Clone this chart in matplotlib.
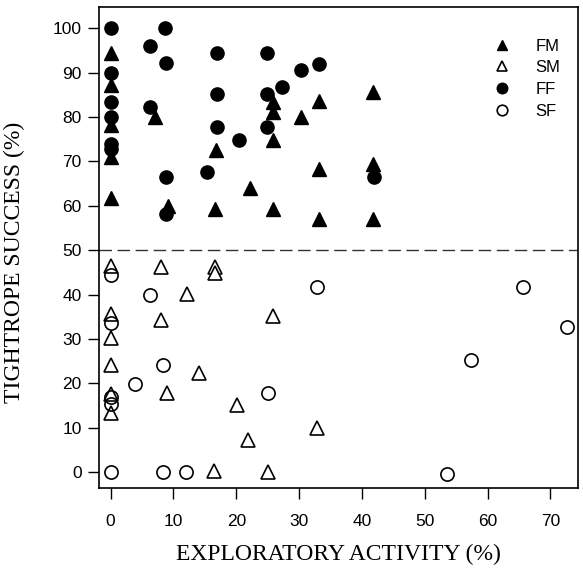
import matplotlib
matplotlib.use("Agg")
import matplotlib.pyplot as plt

# ---- data ----
fm_x = [0, 0, 0, 0, 0, 7.1, 9.2, 16.8, 16.6, 22.2, 25.9, 25.9, 25.9, 25.9, 30.3, 33.2, 33.2, 33.2, 41.7, 41.7, 41.7]
fm_y = [94.5, 87.2, 78.2, 70.9, 61.7, 80.0, 60.0, 72.5, 59.3, 64.1, 83.4, 81.2, 74.8, 59.3, 80.0, 83.7, 68.2, 57.1, 85.7, 69.4, 57.1]

sm_x = [0, 0, 0, 0, 0, 0, 8.0, 8.0, 8.9, 12.1, 14.1, 16.6, 16.6, 20.1, 21.9, 16.5, 25.0, 25.8, 32.9]
sm_y = [46.4, 35.7, 30.3, 24.1, 17.5, 13.3, 46.2, 34.2, 17.8, 40.1, 22.2, 46.2, 44.9, 15.0, 7.1, 0.2, 0.0, 35.1, 10.0]

ff_x = [0, 0, 0, 0, 0, 0, 6.3, 8.7, 8.8, 6.2, 8.8, 8.8, 17.0, 17.0, 17.0, 20.4, 15.3, 24.9, 24.9, 24.9, 27.3, 30.3, 33.1, 41.9]
ff_y = [100, 90, 83.4, 80.0, 73.9, 72.9, 96.0, 100, 92.2, 82.2, 66.6, 58.1, 94.4, 85.3, 77.7, 74.8, 67.7, 94.4, 85.3, 77.7, 86.7, 90.7, 92.0, 66.5]

sf_x = [0, 0, 0, 0, 0, 3.9, 6.2, 8.3, 8.3, 12.0, 25.0, 32.9, 53.5, 57.3, 65.7, 72.7]
sf_y = [44.4, 33.6, 16.9, 15.3, 0.0, 19.8, 39.9, 24.2, 0.0, 0.0, 17.8, 41.7, -0.5, 25.2, 41.6, 32.6]

series_labels = ["FM", "SM", "FF", "SF"]
x_ticks = [0, 10, 20, 30, 40, 50, 60, 70]
y_ticks = [0, 10, 20, 30, 40, 50, 60, 70, 80, 90, 100]
threshold = 50

# ---- figure ----
W, H = 583, 574
fig = plt.figure(figsize=(W / 100, H / 100), dpi=100)
left, right, top, bottom = 99, 578, 6.7, 488.3
ax = fig.add_axes([left / W, 1 - bottom / H, (right - left) / W, (bottom - top) / H])

ms = 9.5
ax.plot(fm_x, fm_y, linestyle="none", marker="^", ms=ms, mfc="black", mec="black", label=series_labels[0], zorder=3)
ax.plot(sm_x, sm_y, linestyle="none", marker="^", ms=ms, mfc="white", mec="black", mew=1.2, label=series_labels[1], zorder=3)
ax.plot(ff_x, ff_y, linestyle="none", marker="o", ms=ms, mfc="black", mec="black", label=series_labels[2], zorder=3)
ax.plot(sf_x, sf_y, linestyle="none", marker="o", ms=ms, mfc="none", mec="black", mew=1.2, label=series_labels[3], zorder=3)

ax.axhline(threshold, color="#333333", lw=1.0, dashes=(9, 4), zorder=2)

ax.set_xlim(-1.85, 74.4)
ax.set_ylim(-3.7, 104.9)
ax.set_xticks(x_ticks)
ax.set_yticks(y_ticks)

tick_font = {"family": "Liberation Sans", "size": 12.5}
ax.set_xticklabels([str(t) for t in x_ticks], fontdict=tick_font)
ax.set_yticklabels([str(t) for t in y_ticks], fontdict=tick_font)
ax.tick_params(direction="out", length=8, width=1.0, pad=10.5, axis="x")
ax.tick_params(direction="out", length=8, width=1.0, pad=4.5, axis="y")

for s in ax.spines.values():
    s.set_linewidth(1.2)

ax.set_xlabel("EXPLORATORY ACTIVITY (%)", family="Liberation Serif", fontsize=17, labelpad=11)
ax.set_ylabel("TIGHTROPE SUCCESS (%)", family="Liberation Serif", fontsize=17)
ax.yaxis.set_label_coords(-(left - 25) / (right - left), (bottom - 262) / (bottom - top))

leg = ax.legend(loc="upper left", bbox_to_anchor=(0.80, 0.958), frameon=False,
                prop={"family": "Liberation Sans", "size": 12},
                handlelength=1.0, handletextpad=1.5, labelspacing=0.4, borderpad=0.2,
                markerscale=0.8)

fig.savefig("out.png", dpi=100)
